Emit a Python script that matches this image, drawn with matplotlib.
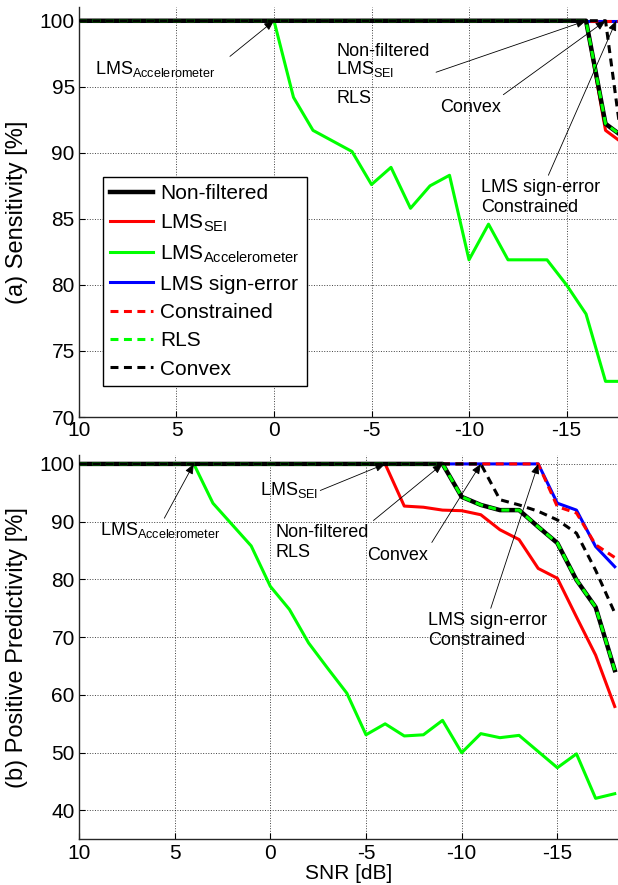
import numpy as np
import matplotlib
matplotlib.use('Agg')
import matplotlib.pyplot as plt

plt.rcParams['font.family'] = ['Liberation Sans', 'DejaVu Sans']
plt.rcParams['mathtext.fontset'] = 'custom'
plt.rcParams['mathtext.rm'] = 'Liberation Sans'
plt.rcParams['axes.unicode_minus'] = False

#======================================
# data
#======================================
snr = [10, 9, 8, 7, 6, 5, 4, 3, 2, 1, 0, -1, -2, -3, -4, -5, -6, -7, -8, -9,
       -10, -11, -12, -13, -14, -15, -16, -17, -18]

# (a) sensitivity
sens_nonfilt = [100]*27 + [92.2, 91.1]
sens_sei = [100]*27 + [91.7, 90.6]
sens_acc = [100]*11 + [94.2, 91.7, 90.9, 90.1, 87.6, 88.9, 85.8, 87.5, 88.3,
                       81.9, 84.6, 81.9, 81.9, 81.9, 80.0, 77.8, 72.7, 72.7]
sens_signerr = [100]*29
sens_constr = [100]*29
sens_rls = [100]*27 + [92.2, 91.1]
sens_convex = [100]*28 + [89.0]

# (b) positive predictivity
ppv_nonfilt = [100]*20 + [94.3, 92.9, 92.0, 92.0, 89.1, 86.3, 79.9, 75.2, 64.3]
ppv_sei = [100]*17 + [92.7, 92.5, 92.0, 91.9, 91.2, 88.6, 86.9, 81.9, 80.2,
                      73.5, 66.9, 58.0]
ppv_acc = [100]*7 + [93.2, 89.5, 85.8, 78.8, 74.8, 69.0, 64.6, 60.3, 53.1, 55.0,
                     52.9, 53.1, 55.6, 50.0, 53.3, 52.6, 53.0, 50.2, 47.4, 49.8,
                     42.1, 42.9]
ppv_signerr = [100]*25 + [93.2, 92.0, 85.7, 82.2]
ppv_constr = [100]*25 + [92.6, 91.5, 86.0, 83.8]
ppv_rls = [100]*20 + [94.3, 92.9, 92.0, 92.0, 89.1, 86.3, 79.9, 75.2, 64.3]
ppv_convex = [100]*22 + [93.8, 92.9, 91.8, 90.3, 88.0, 81.6, 74.2]

labels = ['Non-filtered', r'LMS$_{\rm SEI}$', r'LMS$_{\rm Accelerometer}$',
          'LMS sign-error', 'Constrained', 'RLS', 'Convex']


def draw_lines(ax, series):
    """Draw the seven curves in MATLAB-like style."""
    styles = [dict(color='k', lw=3.2, zorder=2.4),
              dict(color='r', lw=2.2, zorder=2.2),
              dict(color=(0, 1, 0), lw=2.2, zorder=2.3),
              dict(color='b', lw=2.2, zorder=2.0),
              dict(color='r', lw=2.2, ls='--', dashes=(2.6, 1.8), zorder=2.1),
              dict(color=(0, 1, 0), lw=2.2, ls='--', dashes=(2.6, 1.8), zorder=2.5),
              dict(color='k', lw=2.2, ls='--', dashes=(2.6, 1.8), zorder=2.6)]
    for k in range(len(series)):
        ax.plot(snr, series[k], label=labels[k], **styles[k])


def style_axes(ax):
    for s in ['top', 'right']:
        ax.spines[s].set_visible(False)
    for s in ['left', 'bottom']:
        ax.spines[s].set_linewidth(1.0)
        ax.spines[s].set_color('#262626')
    ax.tick_params(direction='in', length=4, labelsize=15, pad=3, colors='k')
    ax.grid(True, ls=':', color='k', lw=0.7, alpha=0.75)
    ax.set_xticks([10, 5, 0, -5, -10, -15])


def arrow(ax, head, tail):
    ax.annotate('', xy=head, xytext=tail,
                arrowprops=dict(arrowstyle='-|>,head_length=0.6,head_width=0.25',
                                color='k', lw=0.6, shrinkA=0, shrinkB=0))


fig = plt.figure(figsize=(6.18, 8.85), dpi=100)

#======================================
# (a) sensitivity
#======================================
ax1 = fig.add_axes([0.1278, 0.5288, 0.8722, 0.4636])
draw_lines(ax1, [sens_nonfilt, sens_sei, sens_acc, sens_signerr,
                 sens_constr, sens_rls, sens_convex])
ax1.set_xlim(10, -17.64)
ax1.set_ylim(70, 101.06)
ax1.set_yticks([70, 75, 80, 85, 90, 95, 100])
style_axes(ax1)
ax1.set_ylabel('(a) Sensitivity [%]', fontsize=17)
ax1.yaxis.set_label_coords(-0.094, 0.5)

leg = ax1.legend(loc='lower left', bbox_to_anchor=(0.0445, 0.0756), borderaxespad=0,
                 fontsize=15, handlelength=2.05, handletextpad=0.35, labelspacing=0.45,
                 borderpad=0.35, fancybox=False, framealpha=1)
leg.get_frame().set_edgecolor('k')
leg.get_frame().set_linewidth(1.0)

ax1.text(9.18, 96.0, r'LMS$_{\rm Accelerometer}$', fontsize=13)
arrow(ax1, (0, 100), (2.26, 97.3))
ax1.text(-3.18, 97.3, 'Non-filtered', fontsize=13)
ax1.text(-3.18, 95.95, r'LMS$_{\rm SEI}$', fontsize=13)
ax1.text(-3.18, 93.8, 'RLS', fontsize=13)
arrow(ax1, (-16, 100), (-8.31, 96.1))
ax1.text(-8.5, 93.1, 'Convex', fontsize=13)
arrow(ax1, (-17, 100), (-11.76, 94.4))
ax1.text(-10.6, 87.0, 'LMS sign-error', fontsize=13)
ax1.text(-10.6, 85.5, 'Constrained', fontsize=13)
arrow(ax1, (-17.55, 100), (-14.07, 88.3))

#======================================
# (b) positive predictivity
#======================================
ax2 = fig.add_axes([0.1278, 0.0516, 0.8722, 0.434])
draw_lines(ax2, [ppv_nonfilt, ppv_sei, ppv_acc, ppv_signerr,
                 ppv_constr, ppv_rls, ppv_convex])
ax2.set_xlim(10, -18.17)
ax2.set_ylim(35, 101.5)
ax2.set_yticks([40, 50, 60, 70, 80, 90, 100])
style_axes(ax2)
ax2.set_ylabel('(b) Positive Predictivity [%]', fontsize=17)
ax2.yaxis.set_label_coords(-0.094, 0.5)
ax2.set_xlabel('SNR [dB]', fontsize=15, labelpad=1)

ax2.text(8.91, 87.7, r'LMS$_{\rm Accelerometer}$', fontsize=13)
arrow(ax2, (4, 100), (5.54, 90.6))
ax2.text(0.56, 94.6, r'LMS$_{\rm SEI}$', fontsize=13)
arrow(ax2, (-6, 100), (-2.61, 95.4))
ax2.text(-0.26, 87.4, 'Non-filtered', fontsize=13)
ax2.text(-0.26, 83.8, 'RLS', fontsize=13)
arrow(ax2, (-9, 100), (-5.39, 90.2))
ax2.text(-5.08, 83.4, 'Convex', fontsize=13)
arrow(ax2, (-11, 100), (-8.44, 86.4))
ax2.text(-8.25, 72.1, 'LMS sign-error', fontsize=13)
ax2.text(-8.25, 68.7, 'Constrained', fontsize=13)
arrow(ax2, (-14, 100), (-11.52, 75.0))

fig.savefig('out.png', dpi=100)
